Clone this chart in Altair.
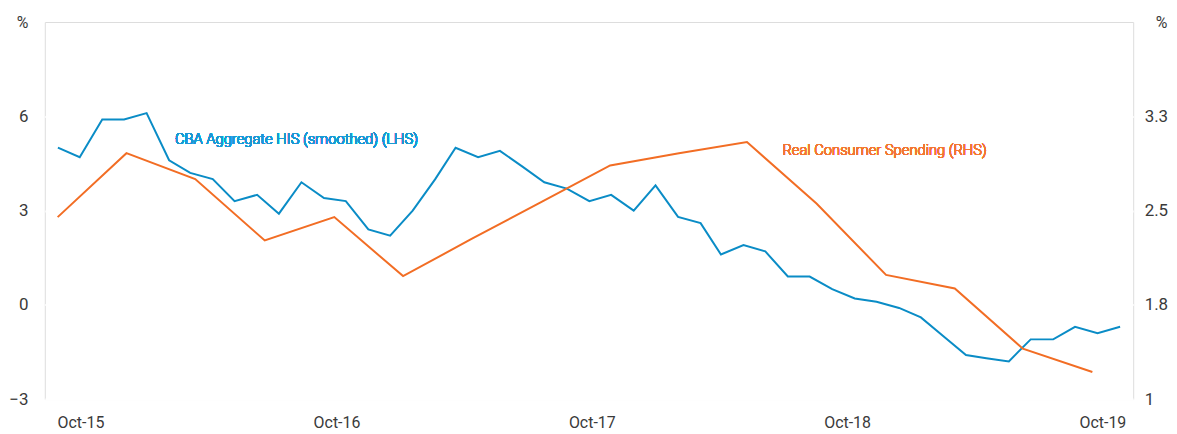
import altair as alt
import pandas as pd

FONT = "Roboto"

# CBA Aggregate HIS (smoothed), monthly, % (LHS)
his_dates = [d.strftime("%Y-%m-%d") for d in pd.date_range("2015-09-01", "2019-09-01", freq="MS")]
his_values = [5.0, 4.7, 5.9, 5.9, 6.1, 4.6, 4.2, 4.0, 3.3, 3.5,
              2.9, 3.9, 3.4, 3.3, 2.4, 2.2, 3.0, 4.0, 5.0, 4.7,
              4.9, 4.4, 3.9, 3.7, 3.3, 3.5, 3.0, 3.8, 2.8, 2.6,
              1.6, 1.9, 1.7, 0.9, 0.9, 0.5, 0.2, 0.1, -0.1, -0.4,
              -1.0, -1.6, -1.7, -1.8, -1.1, -1.1, -0.7, -0.9, -0.7]

# Real Consumer Spending, quarterly, % (RHS)
rcs_dates = [d.strftime("%Y-%m-%d") for d in pd.date_range("2015-09-01", periods=16, freq="3MS")]
rcs_values = [2.48, 3.0, 2.79, 2.29, 2.48, 2.0, 2.3, 2.6,
              2.9, 3.0, 3.09, 2.59, 2.01, 1.9, 1.41, 1.22]

# x-axis tick labels
tick_years = [2015, 2016, 2017, 2018, 2019]
left_ticks = [-3, 0, 3, 6]
right_ticks = [1, 1.7667, 2.5333, 3.3]

his_df = pd.DataFrame({"date": his_dates, "value": his_values})
rcs_df = pd.DataFrame({"date": rcs_dates, "value": rcs_values})
tick_df = pd.DataFrame({"date": [f"{y}-10-01" for y in tick_years]})

BLUE = "#0a8cc6"
ORANGE = "#f26d24"
TXT = "#3a3a3a"

blue_x = alt.Scale(domain=[alt.DateTime(year=2015, month=8, date=14),
                           alt.DateTime(year=2019, month=9, date=19)], nice=False)
orange_x = alt.Scale(domain=[alt.DateTime(year=2015, month=8, date=15),
                             alt.DateTime(year=2019, month=7, date=25)], nice=False)
label_x = alt.Scale(domain=[alt.DateTime(year=2015, month=8, date=11),
                            alt.DateTime(year=2019, month=11, date=14)], nice=False)

left_y = alt.Scale(domain=[-3, 9], nice=False, zero=False)
right_y = alt.Scale(domain=[1, 4.0667], nice=False, zero=False)

blue_line = alt.Chart(his_df).mark_line(color=BLUE, strokeWidth=2).encode(
    x=alt.X("date:T", scale=blue_x, axis=None),
    y=alt.Y("value:Q", scale=left_y, axis=alt.Axis(
        orient="left", values=left_ticks, grid=True, gridColor="white", gridWidth=2,
        ticks=False, tickSize=0, domain=False, labelPadding=17,
        labelFontSize=17, labelColor=TXT, labelFont=FONT, labelFontWeight="normal",
        title="%", titleAngle=0, titleAlign="right", titleBaseline="middle",
        titleX=-17, titleY=1, titleFontSize=16, titleFontWeight="normal",
        titleColor=TXT, titleFont=FONT)),
)
blue_text = alt.Chart(his_df).mark_text(
    text="CBA Aggregate HIS (smoothed) (LHS)", align="left", baseline="middle",
    fontSize=14.8, fontWeight=300, color="#1a98d4", font=FONT,
).encode(
    x=alt.X(datum=alt.DateTime(year=2016, month=2, date=9), type="temporal"),
    y=alt.Y(datum=5.26, type="quantitative"),
)
blue = alt.layer(blue_line, blue_text)

orange_line = alt.Chart(rcs_df).mark_line(color=ORANGE, strokeWidth=2).encode(
    x=alt.X("date:T", scale=orange_x, axis=None),
    y=alt.Y("value:Q", scale=right_y, axis=alt.Axis(
        orient="right", values=right_ticks, grid=False,
        ticks=False, tickSize=0, domain=False, labelPadding=11,
        labelExpr="datum.value == 1 ? '1' : format(datum.value, '.1f')",
        labelFontSize=17, labelColor=TXT, labelFont=FONT, labelFontWeight="normal",
        title="%", titleAngle=0, titleAlign="right", titleBaseline="middle",
        titleX=34, titleY=1, titleFontSize=16, titleFontWeight="normal",
        titleColor=TXT, titleFont=FONT)),
)
orange_text = alt.Chart(rcs_df).mark_text(
    text="Real Consumer Spending (RHS)", align="left", baseline="middle",
    fontSize=14.8, fontWeight=300, color="#f37632", font=FONT,
).encode(
    x=alt.X(datum=alt.DateTime(year=2018, month=4, date=17), type="temporal"),
    y=alt.Y(datum=3.015, type="quantitative"),
)
orange = alt.layer(orange_line, orange_text)

labels = alt.Chart(tick_df).mark_point(opacity=0).encode(
    x=alt.X("date:T", scale=label_x, axis=alt.Axis(
        orient="bottom", values=[alt.DateTime(year=y, month=10, date=1) for y in tick_years],
        format="%b-%y", grid=False, ticks=False, tickSize=0, domain=False,
        labelPadding=16, labelFontSize=16, labelColor=TXT, labelFont=FONT,
        labelFontWeight="normal", title=None)),
)

chart = alt.layer(blue, orange, labels).resolve_scale(
    x="independent", y="independent"
).properties(
    width=1094, height=379,
    autosize=alt.AutoSizeParams(type="none"),
    padding={"left": 37, "top": 13, "right": 36, "bottom": 33},
    background="white",
).configure_view(fill="#eff0f2", strokeWidth=0).configure(font=FONT)

chart.save("out.html", embed_options={"renderer": "svg", "actions": False})
